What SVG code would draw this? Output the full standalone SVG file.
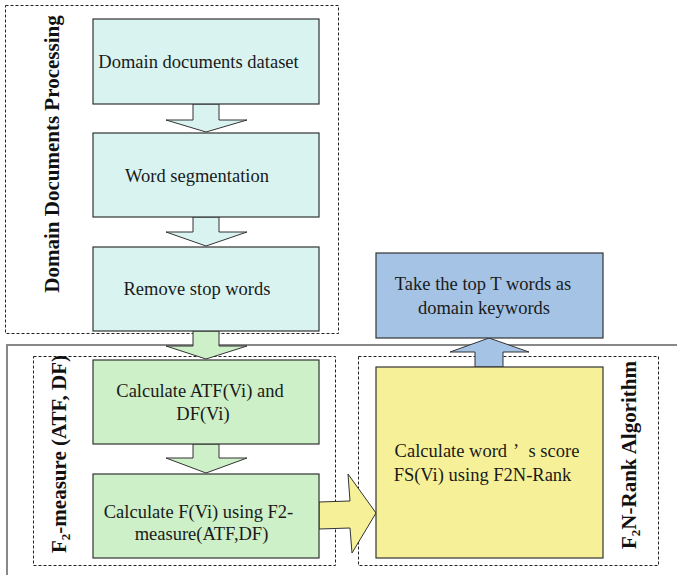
<svg xmlns="http://www.w3.org/2000/svg" width="677" height="575" viewBox="0 0 677 575">
  <style>
    .lbl { font-family: "Liberation Serif", "Times New Roman", serif; font-size: 18.5px; fill: #1a1a1a; text-anchor: middle; }
    .side { font-family: "Liberation Serif", "Times New Roman", serif; font-size: 21px; font-weight: bold; fill: #111; text-anchor: middle; }
    .grp { fill: none; stroke: #222; stroke-width: 1; stroke-dasharray: 3 2; }
    .box { stroke: #333; stroke-width: 1.2; }
    .cyan { fill: #d9f3f1; }
    .green { fill: #cdf0c9; }
    .yellow { fill: #f6f199; }
    .blue { fill: #a5c3e5; }
    .arr { stroke: #333; stroke-width: 1; stroke-linejoin: miter; }
  </style>
  <rect width="677" height="575" fill="#ffffff"/>

  <!-- group frames -->
  <g id="frames">
    <path d="M7,575 V345 H677" fill="none" stroke="#888" stroke-width="2"/>
    <rect class="grp" x="5.5" y="5.5" width="333" height="328"/>
    <rect class="grp" x="33.5" y="356.5" width="302" height="209"/>
    <rect class="grp" x="358.5" y="356.5" width="300" height="209"/>
  </g>

  <!-- group titles -->
  <g id="title-processing">
    <text class="side" transform="translate(59,154) rotate(-90)">Domain Documents Processing</text>
  </g>
  <g id="title-f2measure">
    <text class="side" transform="translate(66,454) rotate(-90)">F<tspan font-size="13" dy="4">2</tspan><tspan dy="-4">-measure (ATF, DF)</tspan></text>
  </g>
  <g id="title-f2nrank">
    <text class="side" transform="translate(636,455) rotate(-90)">F<tspan font-size="13" dy="4">2</tspan><tspan dy="-4">N-Rank Algorithm</tspan></text>
  </g>

  <!-- block arrows between steps -->
  <g id="connectors">
    <polygon class="arr cyan" points="193,104 219,104 219,120 247,120 206,132 166,120 193,120"/>
    <polygon class="arr cyan" points="193,217 219,217 219,232 247,232 206,246 166,232 193,232"/>
    <polygon class="arr green" points="193,331 219,331 219,346 247,346 206,359 166,346 193,346"/>
    <polygon class="arr green" points="193,444 219,444 219,458 247,458 206,473 166,458 193,458"/>
    <polygon class="arr yellow" points="319,502 350,501 348,474 376,513 352,553 350,528 319,529"/>
    <polygon class="arr blue" points="475,367 503,367 503,352 529,352 489,338 450,352 475,352"/>
  </g>

  <!-- steps -->
  <g id="step-dataset">
    <rect class="box cyan" x="93" y="19" width="226" height="85"/>
    <text class="lbl" x="198.5" y="68">Domain documents dataset</text>
  </g>
  <g id="step-segmentation">
    <rect class="box cyan" x="93" y="133" width="226" height="84"/>
    <text class="lbl" x="197" y="182">Word segmentation</text>
  </g>
  <g id="step-stopwords">
    <rect class="box cyan" x="93" y="247" width="226" height="84"/>
    <text class="lbl" x="197" y="295">Remove stop words</text>
  </g>
  <g id="step-atf-df">
    <rect class="box green" x="93" y="360" width="226" height="84"/>
    <text class="lbl" x="200" y="397">Calculate ATF(Vi) and</text>
    <text class="lbl" x="203" y="420">DF(Vi)</text>
  </g>
  <g id="step-f2">
    <rect class="box green" x="93" y="474" width="226" height="84"/>
    <text class="lbl" x="198.5" y="518">Calculate F(Vi) using F2-</text>
    <text class="lbl" x="201.5" y="540">measure(ATF,DF)</text>
  </g>
  <g id="step-score">
    <rect class="box yellow" x="376" y="367" width="227" height="191"/>
    <text class="lbl" x="487" y="457">Calculate word<tspan dx="6">’</tspan><tspan dx="6"> s score</tspan></text>
    <text class="lbl" x="482.5" y="481">FS(Vi) using F2N-Rank</text>
  </g>
  <g id="step-topt">
    <rect class="box blue" x="376" y="253" width="227" height="85"/>
    <text class="lbl" x="483" y="290">Take the top T words as</text>
    <text class="lbl" x="484" y="314">domain keywords</text>
  </g>
</svg>
